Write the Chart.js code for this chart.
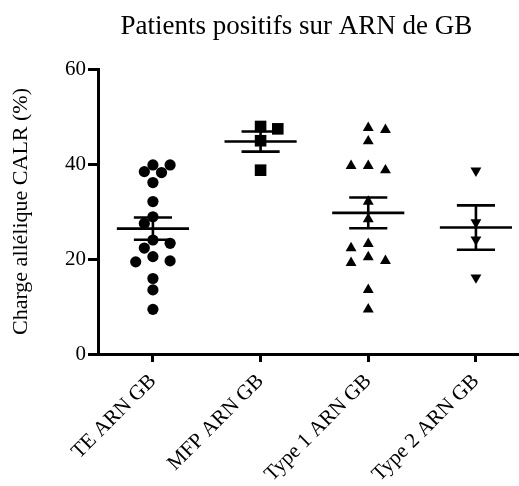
<!DOCTYPE html>
<html>
<head>
<meta charset="utf-8">
<script src="https://cdn.jsdelivr.net/npm/chart.js@4.4.1/dist/chart.umd.min.js"></script>
<style>
  html, body { margin: 0; padding: 0; background: #fff; }
</style>
</head>
<body>
<canvas id="chart" width="519" height="486"></canvas>
<script>
// data
const categories = ['TE ARN GB', 'MFP ARN GB', 'Type 1 ARN GB', 'Type 2 ARN GB'];
const teValues = [38.4, 39.8, 39.8, 38.2, 36.1, 32.1, 28.9, 27.5, 24.0, 23.3, 22.3, 20.5, 19.4, 19.6, 15.9, 13.5, 9.4];
const mfpValues = [47.4, 47.9, 44.9, 38.7];
const type1Values = [47.6, 47.2, 44.8, 39.6, 38.7, 39.6, 32.1, 28.4, 23.2, 22.3, 20.4, 19.2, 19.6, 13.5, 9.4];
const type2Values = [38.6, 27.7, 24.1, 16.1];
const yTicks = [0, 20, 40, 60];

const FONT = "'Liberation Serif', 'Times New Roman', serif";
const groups = [teValues, mfpValues, type1Values, type2Values];
const styles = [
    { pointStyle: 'circle', radius: 5.6, rotation: 0 },
    { pointStyle: 'rect', radius: 8.2, rotation: 0 },
    { pointStyle: 'triangle', radius: 6.3, rotation: 0 },
    { pointStyle: 'triangle', radius: 6.3, rotation: 180 }
];

// rough pixel scale, only used to spread the dots sideways (beeswarm on a grid)
const PX_PER_Y = 4.75;
const PX_PER_CAT = 107.7;
const DOT = 10.5;
const STEP = 8.6;

function swarm(values, catIndex) {
    const placed = [];
    const order = values.map((v, i) => i).sort((a, b) => values[b] - values[a]);
    const out = new Array(values.length);
    let flip = 1;
    order.forEach(i => {
        const py = values[i] * PX_PER_Y;
        let px = 0;
        for (let k = 0; k < 40; k++) {
            // 0, then +/- alternating by flip
            const mag = Math.ceil(k / 2) * STEP;
            const cand = k === 0 ? 0 : (k % 2 ? flip * mag : -flip * mag);
            const hit = placed.some(p => {
                const dx = p.px - cand, dy = p.py - py;
                return dx * dx + dy * dy < DOT * DOT - 1e-6;
            });
            if (!hit) { px = cand; break; }
        }
        if (px !== 0) flip = -Math.sign(px);
        placed.push({ px: px, py: py });
        out[i] = { x: catIndex + px / PX_PER_CAT, y: values[i] };
    });
    return out;
}

function meanSem(values) {
    const n = values.length;
    const m = values.reduce((a, b) => a + b, 0) / n;
    const sd = Math.sqrt(values.reduce((a, b) => a + (b - m) * (b - m), 0) / (n - 1));
    return { mean: m, sem: sd / Math.sqrt(n) };
}

// mean line + SEM bars, segments split with null gaps
const summary = [];
groups.forEach((vals, i) => {
    const s = meanSem(vals);
    const hi = s.mean + s.sem, lo = s.mean - s.sem;
    summary.push({ x: i - 0.335, y: s.mean }, { x: i + 0.335, y: s.mean }, { x: i, y: null });
    summary.push({ x: i, y: lo }, { x: i, y: hi }, { x: i, y: null });
    summary.push({ x: i - 0.177, y: hi }, { x: i + 0.177, y: hi }, { x: i, y: null });
    summary.push({ x: i - 0.177, y: lo }, { x: i + 0.177, y: lo }, { x: i, y: null });
});

const datasets = groups.map((vals, i) => ({
    label: categories[i],
    data: swarm(vals, i),
    pointStyle: styles[i].pointStyle,
    pointRadius: styles[i].radius,
    pointRotation: styles[i].rotation,
    pointBackgroundColor: '#000',
    pointBorderColor: '#000',
    pointBorderWidth: 0,
    pointHoverRadius: styles[i].radius
}));
datasets.push({
    label: 'moyenne ± SEM',
    data: summary,
    showLine: true,
    spanGaps: false,
    borderColor: '#000',
    borderWidth: 2.6,
    pointRadius: 0,
    pointHoverRadius: 0
});

// title drawn by hand so it sits where the original has it
const titlePlugin = {
    id: 'topTitle',
    afterDraw(chart) {
        const ctx = chart.ctx;
        ctx.save();
        ctx.font = '27px ' + FONT;
        ctx.fillStyle = '#000';
        ctx.textAlign = 'center';
        ctx.textBaseline = 'alphabetic';
        ctx.fillText('Patients positifs sur ARN de GB', chart.width * 0.571, 34);
        ctx.restore();
    }
};

new Chart(document.getElementById('chart'), {
    type: 'scatter',
    data: { datasets: datasets },
    plugins: [titlePlugin],
    options: {
        responsive: false,
        animation: false,
        layout: { autoPadding: false, padding: { top: 69, left: 0, right: 0, bottom: 0 } },
        plugins: {
            legend: { display: false },
            tooltip: { enabled: false }
        },
        scales: {
            x: {
                type: 'linear',
                min: -0.51,
                max: 3.4,
                afterBuildTicks: s => { s.ticks = categories.map((c, i) => ({ value: i })); },
                afterFit: s => {
                    s.height = 132;
                    // axis runs to the right edge like the original
                    s.paddingLeft = 0;
                    s.paddingRight = 0;
                },
                border: { color: '#000', width: 3 },
                grid: { drawOnChartArea: false, color: '#000', tickLength: 8, tickWidth: 3 },
                ticks: {
                    color: '#000',
                    font: { family: FONT, size: 21 },
                    minRotation: 45,
                    maxRotation: 45,
                    autoSkip: false,
                    padding: 7,
                    callback: v => categories[v]
                }
            },
            y: {
                min: 0,
                max: 60,
                afterBuildTicks: s => { s.ticks = yTicks.map(v => ({ value: v })); },
                afterFit: s => { s.width = 98; },
                border: { color: '#000', width: 3 },
                grid: { drawOnChartArea: false, color: '#000', tickLength: 10, tickWidth: 3 },
                ticks: { color: '#000', font: { family: FONT, size: 21 }, padding: 2 },
                title: {
                    display: true,
                    text: 'Charge allélique CALR (%)',
                    color: '#000',
                    font: { family: FONT, size: 22 },
                    padding: { top: 8, bottom: 0 }
                }
            }
        }
    }
});
</script>
</body>
</html>
